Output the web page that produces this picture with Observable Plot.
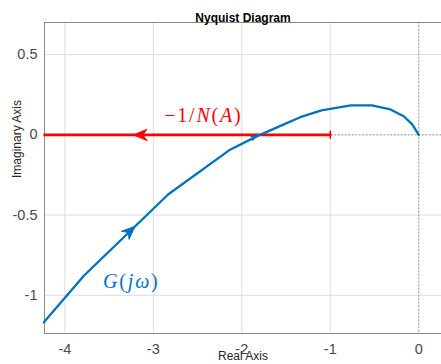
<!DOCTYPE html>
<html>
<head>
<meta charset="utf-8">
<script src="https://cdn.jsdelivr.net/npm/d3@7"></script>
<script src="https://cdn.jsdelivr.net/npm/@observablehq/plot@0.6"></script>
<style>
  html, body { margin: 0; padding: 0; background: #fff; }
</style>
</head>
<body>
<div id="chart"></div>
<script>
// ---- data ----
const title = "Nyquist Diagram";
const xLabel = "Real Axis";
const yLabel = "Imaginary Axis";
const xTicks = [-4, -3, -2, -1, 0];
const yTicks = [-1, -0.5, 0, 0.5];
const xDomain = [-4.23, 0.257];
const yDomain = [-1.238, 0.7];

// G(jω) curve
const gRe = [-4.237, -3.785, -2.83, -2.128, -1.826, -1.563, -1.34, -1.10, -0.85, -0.77, -0.53, -0.32, -0.17, -0.074, 0];
const gIm = [-1.168, -0.878, -0.37, -0.091, -0.008, 0.056, 0.11, 0.152, 0.176, 0.183, 0.183, 0.158, 0.116, 0.065, 0];

// -1/N(A) locus
const nRe = [-4.23, -1];
const nIm = [0, 0];

// direction arrowheads on the curves
const arrowRe = [-3.209, -3.22];
const arrowIm = [-0.571, 0];
const arrowDir = [47, -90];
const arrowColor = ["#0072BD", "#FF0000"];
const smallArrowRe = [-1.83];
const smallArrowIm = [-0.006];
const smallArrowDir = [63];

// curve labels
const labelText = ["−1/N(A)", "G(jω)"];
const labelRe = [-2.434, -3.249];
const labelIm = [0.12, -0.917];
const labelColor = ["#FF0000", "#0072BD"];

const blue = "#0072BD";
const red = "#FF0000";

const gData = gRe.map((re, i) => ({re, im: gIm[i]}));
const nData = nRe.map((re, i) => ({re, im: nIm[i]}));
const arrows = arrowRe.map((re, i) => ({re, im: arrowIm[i], dir: arrowDir[i], color: arrowColor[i]}));
const smallArrows = smallArrowRe.map((re, i) => ({re, im: smallArrowIm[i], dir: smallArrowDir[i]}));
const labels = labelText.map((t, i) => ({t, re: labelRe[i], im: labelIm[i], color: labelColor[i]}));
const nEnd = [nData[nData.length - 1]];

const headShape = {
  draw(ctx, l) {
    const w = l * 0.42;
    ctx.moveTo(0, -l);
    ctx.lineTo(w, 0);
    ctx.lineTo(0, -l * 0.32);
    ctx.lineTo(-w, 0);
    ctx.closePath();
  }
};
const barShape = {
  draw(ctx, l) {
    ctx.moveTo(0, 0);
    ctx.lineTo(0, -l);
  }
};

const sans = "'Liberation Sans', Arial, Helvetica, sans-serif";
const serif = "'Liberation Serif', 'Times New Roman', serif";

const chart = Plot.plot({
  width: 441,
  height: 364,
  marginLeft: 44,
  marginRight: 0,
  marginTop: 22,
  marginBottom: 31,
  style: {fontFamily: sans, fontSize: "14.5px", color: "#4a4a4a", background: "#fff"},
  x: {domain: xDomain},
  y: {domain: yDomain},
  marks: [
    Plot.gridX(xTicks, {stroke: "#dedede", strokeOpacity: 1}),
    Plot.gridY(yTicks, {stroke: "#dedede", strokeOpacity: 1}),
    Plot.ruleX([0], {stroke: "#9a9a9a", strokeDasharray: "1.5,2"}),
    Plot.ruleY([0], {stroke: "#9a9a9a", strokeDasharray: "1.5,2"}),
    Plot.frame({stroke: "#8a8a8a"}),
    Plot.axisX(xTicks, {tickSize: 0, tickPadding: 10, tickFormat: d => String(d), label: null, fontSize: 14.5}),
    Plot.axisY(yTicks, {tickSize: 0, tickPadding: 7, tickFormat: d => String(d), label: null, fontSize: 14.5}),
    Plot.line(nData, {x: "re", y: "im", stroke: red, strokeWidth: 2.6}),
    Plot.vector(nEnd, {x: "re", y: "im", length: 7, rotate: 0, anchor: "middle", shape: barShape, stroke: red, strokeWidth: 1.5}),
    Plot.line(gData, {x: "re", y: "im", stroke: blue, strokeWidth: 2.3, strokeLinejoin: "round"}),
    Plot.vector(arrows, {x: "re", y: "im", rotate: "dir", length: 13, anchor: "end", shape: headShape, fill: "color", stroke: "color", strokeWidth: 1}),
    Plot.vector(smallArrows, {x: "re", y: "im", rotate: "dir", length: 6, anchor: "end", shape: headShape, fill: blue, stroke: blue, strokeWidth: 0.8}),
    Plot.text(labels, {x: "re", y: "im", text: "t", fill: "color", fontFamily: serif, fontSize: 20}),
    Plot.text([title], {frameAnchor: "top", dy: -9, fontWeight: "bold", fontSize: 12, fill: "#000", fontFamily: sans}),
    Plot.text([xLabel], {frameAnchor: "bottom", dy: 26.5, fontSize: 12, fill: "#262626", fontFamily: sans}),
    Plot.text([yLabel], {frameAnchor: "left", dx: -27, rotate: -90, fontSize: 12, fill: "#262626", fontFamily: sans})
  ]
});

// Mix upright and italic glyphs as in the LaTeX labels
const parts = {
  [labelText[0]]: [["−1/", 0], ["N", 1], ["(", 0], ["A", 1], [")", 0]],
  [labelText[1]]: [["G", 1], ["(", 0], ["jω", 1], [")", 0]]
};
d3.select(chart).selectAll("text").each(function () {
  const t = this.textContent;
  if (parts[t] && this.children.length === 0) {
    const el = d3.select(this);
    el.text(null).attr("letter-spacing", "1.8px");
    parts[t].forEach(([s, it]) => el.append("tspan").attr("font-style", it ? "italic" : "normal").text(s));
  }
});

document.getElementById("chart").appendChild(chart);
</script>
</body>
</html>
